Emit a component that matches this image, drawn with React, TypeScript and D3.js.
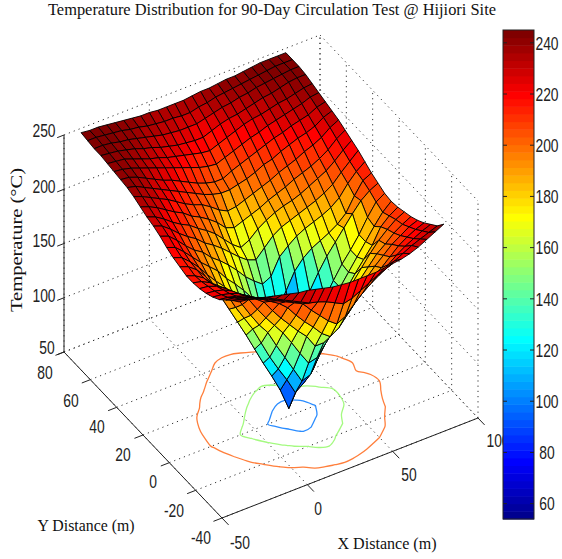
import * as d3 from "d3";

// grid of the measured surface
const xGrid = [-40,-35,-30,-25,-20,-15,-10,-5,0,5,10,15,20,25,30,35,40,45,50,55,60,65,70,75,80];
const yGrid = [-40,-35,-30,-25,-20,-15,-10,-5,0,5,10,15,20,25,30,35,40,45,50,55,60,65,70,75,80];

// temperature, one row per yGrid value
const temperature = [
  [243,242,240,238,236,234,232,230,229,227,225,223,222,221,221,221,221,222,223,224,226,229,233,237,241],
  [238,236,234,231,228,224,220,216,212,208,206,203,199,195,197,201,205,209,212,216,220,224,227,230,233],
  [232,231,228,225,221,217,213,209,205,201,192,184,176,170,174,182,189,195,200,206,212,217,221,225,228],
  [226,225,223,220,216,211,206,201,194,184,175,167,158,152,157,166,175,184,191,197,204,211,216,220,223],
  [222,221,219,216,211,205,199,188,178,169,160,152,140,140,146,155,165,175,184,192,199,206,211,216,219],
  [219,218,216,212,206,198,186,175,165,155,143,130,118,120,130,140,150,165,176,185,194,200,207,212,216],
  [217,216,213,208,200,187,174,162,152,137,123,109,95,98,112,125,140,156,168,178,188,197,204,210,214],
  [216,214,210,204,193,178,165,152,136,120,106,93,78,84,92,107,122,139,155,166,176,186,200,207,212],
  [216,213,208,199,185,170,155,140,124,108,93,77,57,72,85,98,115,133,150,161,172,183,194,204,211],
  [218,215,209,200,188,176,165,155,143,128,112,96,84,84,94,108,122,137,150,162,172,183,196,207,212],
  [220,217,210,202,192,183,175,165,155,143,129,116,106,104,112,127,140,154,166,176,186,196,205,211,215],
  [223,220,213,205,197,190,183,173,165,156,146,134,126,126,140,155,164,170,174,178,183,190,203,214,218],
  [227,224,217,209,202,197,189,183,176,168,159,152,146,150,165,172,178,182,185,188,192,198,208,216,222],
  [230,227,221,214,208,203,196,191,185,178,171,165,162,170,178,183,186,189,192,195,199,204,212,219,226],
  [232,229,224,218,213,209,203,198,192,184,176,170,174,181,186,190,193,195,198,202,206,210,216,223,229],
  [235,232,228,223,218,214,208,204,199,193,185,182,185,188,191,195,198,201,205,208,211,215,220,227,232],
  [238,235,231,227,223,218,213,209,206,201,195,191,192,195,198,201,204,208,211,214,218,221,225,231,235],
  [240,238,234,230,226,222,218,214,210,206,203,201,201,203,205,208,212,214,218,221,224,226,229,234,237],
  [241,240,237,233,229,225,222,218,214,210,207,205,205,209,212,215,218,221,224,226,229,231,233,237,239],
  [242,241,239,236,233,230,227,224,221,218,215,213,212,215,218,221,224,226,229,231,233,235,237,240,241],
  [243,242,241,238,235,232,230,227,225,223,221,219,218,221,224,227,230,232,233,235,237,238,240,242,243],
  [244,243,242,240,238,235,233,230,228,226,225,224,224,227,230,232,233,235,237,239,240,242,244,245,245],
  [244,244,243,241,240,238,236,234,232,231,230,230,230,232,234,236,237,239,240,242,243,244,245,246,246],
  [245,245,244,243,242,240,239,237,236,235,235,234,234,236,237,239,240,241,242,243,244,245,246,246,246],
  [246,245,245,244,243,242,241,240,240,239,239,239,239,240,241,241,242,243,243,244,245,246,246,246,246],
];

const xTicks = [-50, 0, 50, 100];
const yTicks = [-40, -20, 0, 20, 40, 60, 80];
const zTicks = [50, 100, 150, 200, 250];
const colorTicks = [60, 80, 100, 120, 140, 160, 180, 200, 220, 240];
const contourLevels = [100, 150, 200];
const contourColors = ["#2a8cff", "#a4fa80", "#ff7f3c"];

// tick label anchors
const xLabelAt = [[240, 542], [318, 508], [409, 474], [498, 440]];
const yLabelAt = [[201, 537], [174, 510], [153, 481], [123, 454], [97, 426], [71, 400], [45, 372]];
const zLabelAt = [[47, 347], [44, 295], [44, 240], [44, 186], [44, 130]];

const xMin = -50, xMax = 100, yMin = -40, yMax = 80, zMin = 50, zMax = 250;
const originX = 222, originY = 518;

const xToSx = d3.scaleLinear([xMin, xMax], [0, 256]);
const xToSy = d3.scaleLinear([xMin, xMax], [0, -100]);
const yToSx = d3.scaleLinear([yMin, yMax], [0, -158]);
const yToSy = d3.scaleLinear([yMin, yMax], [0, -166]);
const zToSy = d3.scaleLinear([zMin, zMax], [0, -217]);

const project = (x: number, y: number, z: number): [number, number] => [
  originX + xToSx(x) + yToSx(y),
  originY + xToSy(x) + yToSy(y) + zToSy(z),
];

const line = d3.line();
const closedCurve = d3.line().curve(d3.curveCatmullRomClosed);
const seg = (a: number[], b: number[]) =>
  line([project(a[0], a[1], a[2]), project(b[0], b[1], b[2])]) as string;

// matlab jet, 64 steps
const jet = d3.range(64).map((k) => {
  const t = (k + 1) / 64;
  const r = Math.max(0, Math.min(1, 1.5 - Math.abs(4 * t - 3)));
  const g = Math.max(0, Math.min(1, 1.5 - Math.abs(4 * t - 2)));
  const b = Math.max(0, Math.min(1, 1.5 - Math.abs(4 * t - 1)));
  return d3.rgb(255 * r, 255 * g, 255 * b).formatRgb();
});

const colorMin = 54, colorMax = 245;
const colorOf = d3.scaleQuantize<string>().domain([colorMin, colorMax]).range(jet);
const barY = d3.scaleLinear([colorMin, colorMax], [519, 30]);

const Tick = ({ at, children }: { at: number[]; children: string }) => (
  <text
    transform={`translate(${at[0]},${at[1]}) scale(0.77,1)`}
    textAnchor="middle"
    dominantBaseline="central"
    fontFamily="'Liberation Sans', Arial, sans-serif"
    fontSize={18}
    fill="#222"
  >
    {children}
  </text>
);

const Label = ({ x, y, len, rotate, size = 16, children }: any) => (
  <text
    transform={`translate(${x},${y})${rotate ? ` rotate(${rotate})` : ""}`}
    textAnchor="middle"
    fontFamily="'Liberation Serif', 'Times New Roman', serif"
    fontSize={size}
    textLength={len}
    lengthAdjust="spacingAndGlyphs"
    fill="#111"
  >
    {children}
  </text>
);

export default function App() {
  const cols = xGrid.length;
  const rows = yGrid.length;

  // contours on the floor, holes of the >= level regions are the closed curves
  const contourGen = d3.contours().size([cols, rows]).thresholds(contourLevels);
  const contourSets = contourGen(temperature.flat());
  const toFloor = (p: number[]) =>
    project(xGrid[0] + (p[0] - 0.5) * 5, yGrid[0] + (p[1] - 0.5) * 5, zMin);

  // back to front, viewer sits at the low x / low y corner
  const faces: { d: string; fill: string; key: string }[] = [];
  for (let j = rows - 2; j >= 0; j--) {
    for (let i = cols - 2; i >= 0; i--) {
      const corners = [[i, j], [i + 1, j], [i + 1, j + 1], [i, j + 1]].map(([a, b]) =>
        project(xGrid[a], yGrid[b], temperature[b][a]),
      );
      faces.push({
        key: `${i}-${j}`,
        d: (line(corners) as string) + "Z",
        fill: colorOf(temperature[j][i]),
      });
    }
  }

  const grid: string[] = [];
  xTicks.forEach((x) => {
    grid.push(seg([x, yMin, zMin], [x, yMax, zMin]));
    grid.push(seg([x, yMax, zMin], [x, yMax, zMax]));
  });
  yTicks.forEach((y) => {
    grid.push(seg([xMin, y, zMin], [xMax, y, zMin]));
    grid.push(seg([xMax, y, zMin], [xMax, y, zMax]));
  });
  zTicks.forEach((z) => {
    grid.push(seg([xMin, yMax, z], [xMax, yMax, z]));
    grid.push(seg([xMax, yMax, z], [xMax, yMin, z]));
  });

  const bandStep = (colorMax - colorMin) / 64;

  return (
    <svg
      width={562}
      height={559}
      style={{ position: "fixed", left: 0, top: 0, background: "#fff" }}
    >
      <Label x={272} y={15} len={448} size={16}>
        Temperature Distribution for 90-Day Circulation Test @ Hijiori Site
      </Label>

      <g fill="none" stroke="#333" strokeWidth={1} strokeDasharray="1.2 4">
        {grid.map((d, k) => (
          <path key={k} d={d} />
        ))}
      </g>

      <g fill="none" stroke="#222" strokeWidth={1}>
        <path d={seg([xMin, yMin, zMin], [xMax, yMin, zMin])} />
        <path d={seg([xMin, yMin, zMin], [xMin, yMax, zMin])} />
        <path d={seg([xMin, yMax, zMin], [xMin, yMax, zMax])} />
        {xTicks.map((x) => (
          <path key={x} d={seg([x, yMin, zMin], [x, yMin - 5, zMin])} />
        ))}
        {yTicks.map((y) => (
          <path key={y} d={seg([xMin, y, zMin], [xMin - 5, y, zMin])} />
        ))}
        {zTicks.map((z) => (
          <path key={z} d={seg([xMin, yMax, z], [xMin - 4, yMax, z])} />
        ))}
      </g>

      <g fill="none" strokeWidth={1.3}>
        {contourSets.map((set, k) =>
          set.coordinates.flatMap((poly, m) =>
            poly.slice(1).map((ring, n) => (
              <path
                key={`${k}-${m}-${n}`}
                d={closedCurve(ring.slice(0, -1).map(toFloor)) as string}
                stroke={contourColors[k]}
              />
            )),
          ),
        )}
      </g>

      <g stroke="#000" strokeWidth={0.9} strokeLinejoin="round">
        {faces.map((f) => (
          <path key={f.key} d={f.d} fill={f.fill} />
        ))}
      </g>

      {xTicks.map((t, k) => (
        <Tick key={t} at={xLabelAt[k]}>{String(t)}</Tick>
      ))}
      {yTicks.map((t, k) => (
        <Tick key={t} at={yLabelAt[k]}>{String(t)}</Tick>
      ))}
      {zTicks.map((t, k) => (
        <Tick key={t} at={zLabelAt[k]}>{String(t)}</Tick>
      ))}

      <Label x={86} y={531} len={97}>Y Distance (m)</Label>
      <Label x={387} y={549} len={99}>X Distance (m)</Label>
      <Label x={22} y={240} len={144} rotate={-90}>Temperature (°C)</Label>

      {/* colorbar */}
      <g>
        {jet.map((c, k) => {
          const lo = colorMin + k * bandStep;
          return (
            <rect
              key={k}
              x={503}
              width={31}
              y={barY(lo + bandStep)}
              height={barY(lo) - barY(lo + bandStep) + 0.5}
              fill={c}
            />
          );
        })}
        <rect x={503} y={30} width={31} height={489} fill="none" stroke="#222" strokeWidth={1} />
        {colorTicks.map((t) => (
          <g key={t}>
            <path d={`M503,${barY(t)}h4M534,${barY(t)}h-4`} stroke="#222" />
            <Tick at={[547, barY(t)]}>{String(t)}</Tick>
          </g>
        ))}
      </g>
    </svg>
  );
}
